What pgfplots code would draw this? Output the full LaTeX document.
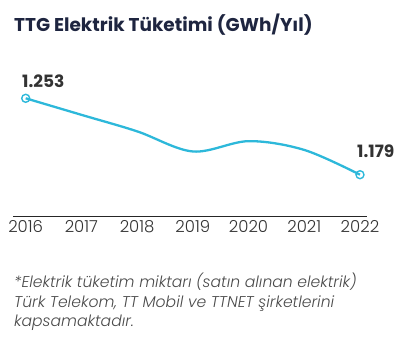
\documentclass[border=0pt]{standalone}
\usepackage{pgfplots}
\pgfplotsset{compat=1.18}
\usepackage{fontspec}
\setmainfont{Poppins}
\newfontfamily\lightfont{Poppins}[UprightFont=* Light, ItalicFont=* Light Italic]
\definecolor{lineblue}{HTML}{2DB8DA}
\definecolor{titlecol}{HTML}{1E2540}
\definecolor{labcol}{HTML}{333333}
\definecolor{notecol}{HTML}{4A4A4A}
\begin{document}
\begin{tikzpicture}[x=1pt,y=1pt]
\useasboundingbox (-13,-133) rectangle (396,216);
\begin{axis}[
  scale only axis, width=354pt, height=117.7pt,
  xmin=2015.772, xmax=2022.126,
  ymin=1.139, ymax=1.253,
  clip=false,
  axis x line=bottom, axis y line=none,
  axis line style={-, black!85, line width=0.9pt},
  xtick={2016,...,2022},
  xticklabel style={/pgf/number format/1000 sep={}, font=\lightfont\fontsize{16.5}{18}\selectfont\color{labcol}, yshift=-1pt},
  /pgf/number format/assume math mode=true,
  major tick length=0pt,
  ytick=\empty,
]
\addplot[lineblue, line width=2.3pt, smooth, tension=0.55, mark=none]
  coordinates {(2016,1.253) (2017,1.237) (2018,1.221) (2019,1.2015) (2020,1.2115) (2021,1.203) (2022,1.179)};
\addplot[only marks, mark=o, mark size=4pt, mark options={draw=lineblue, fill=white, line width=1.4pt}]
  coordinates {(2016,1.253) (2022,1.179)};
\node[anchor=base west, inner sep=0, font=\fontsize{17}{20}\selectfont\bfseries, text=labcol] at ([xshift=-3.7pt,yshift=11.3pt]axis cs:2016,1.253) {1.253};
\node[anchor=base west, inner sep=0, font=\fontsize{17}{20}\selectfont\bfseries, text=labcol] at ([xshift=-3pt,yshift=17.7pt]axis cs:2022,1.179) {1.179};
\end{axis}
\node[anchor=base west, inner sep=0, font=\fontsize{18.5}{24}\selectfont\bfseries, text=titlecol] at (1,184.3) {TTG Elektrik Tüketimi (GWh/Yıl)};
\node[anchor=base west, inner sep=0, font=\lightfont\fontsize{15.6}{16}\selectfont\itshape, text=notecol] at (1,-71.3) {*Elektrik tüketim miktarı (satın alınan elektrik)};
\node[anchor=base west, inner sep=0, font=\lightfont\fontsize{15.6}{16}\selectfont\itshape, text=notecol] at (1,-91) {Türk Telekom, TT Mobil ve TTNET şirketlerini};
\node[anchor=base west, inner sep=0, font=\lightfont\fontsize{15.6}{16}\selectfont\itshape, text=notecol] at (1,-110) {kapsamaktadır.};
\end{tikzpicture}
\end{document}
